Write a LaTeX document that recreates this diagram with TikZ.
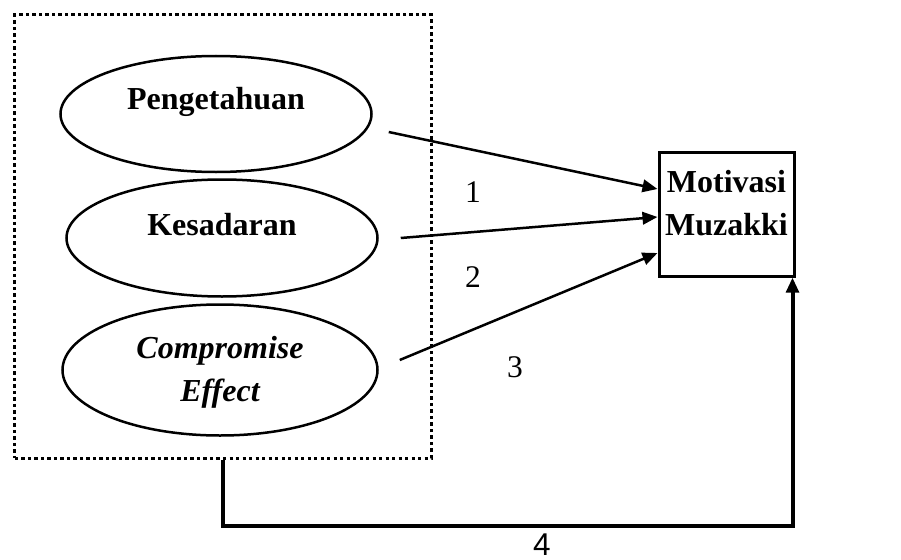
\documentclass[tikz,border=0pt]{standalone}
\usepackage{fontspec}
\setmainfont{Liberation Serif}
\setsansfont{Liberation Sans}
\usetikzlibrary{shapes.geometric,arrows.meta}
\tikzset{
	var/.style={draw,ellipse,line width=1pt,inner sep=0pt},
	txt/.style={inner sep=0pt,align=center,font=\fontsize{12.8}{17}\selectfont\bfseries},
	num/.style={inner sep=0pt,font=\fontsize{12.6}{17}\selectfont}
}
\begin{document}
\begin{tikzpicture}[x=0.4pt,y=-0.4pt,>={Triangle[length=6pt,width=5pt]}]
		\useasboundingbox (0,0) rectangle (901,560);
		\node[draw,line width=1.2pt,dash pattern=on 1.3pt off 1.3pt,minimum width=166.4pt,minimum height=177.2pt] (grp) at (223,236.5){};
		\node[var,minimum width=124.4pt,minimum height=46.4pt,label={[txt,yshift=5pt]center:Pengetahuan}] (peng) at (216,114){};
		\node[var,minimum width=124.4pt,minimum height=46.8pt,label={[txt,yshift=5.5pt]center:Kesadaran}] (kes) at (222,238){};
		\node[var,minimum width=126pt,minimum height=52.4pt,label={[txt,yshift=-1pt]center:\itshape Compromise\\\itshape Effect}] (comp) at (220,370){};
		\node[draw,line width=1.2pt,minimum width=54pt,minimum height=49.6pt,label={[txt,yshift=4.4pt]center:Motivasi\\Muzakki}] (mot) at (726.5,214){};
		\draw[->,line width=1pt] ([shift={(16,18)}]peng.east)--([shift={(0,-25)}]mot.west);
		\draw[->,line width=1pt] ([shift={(22,0)}]kes.east)--([shift={(0,3)}]mot.west);
		\draw[->,line width=1pt] ([shift={(21,-10)}]comp.east)--([shift={(0,39)}]mot.west);
		\draw[->,line width=1.6pt] (grp.south)--++(0,66)-|([shift={(-3,0)}]mot.south east);
		\node[num] (n1) at (473,192){1};
		\node[num] (n2) at (473,277){2};
		\node[num] (n3) at (515,367){3};
		\node[num,font=\fontsize{12.6}{17}\selectfont\sffamily] (n4) at (542,545){4};
	\end{tikzpicture}
\end{document}
